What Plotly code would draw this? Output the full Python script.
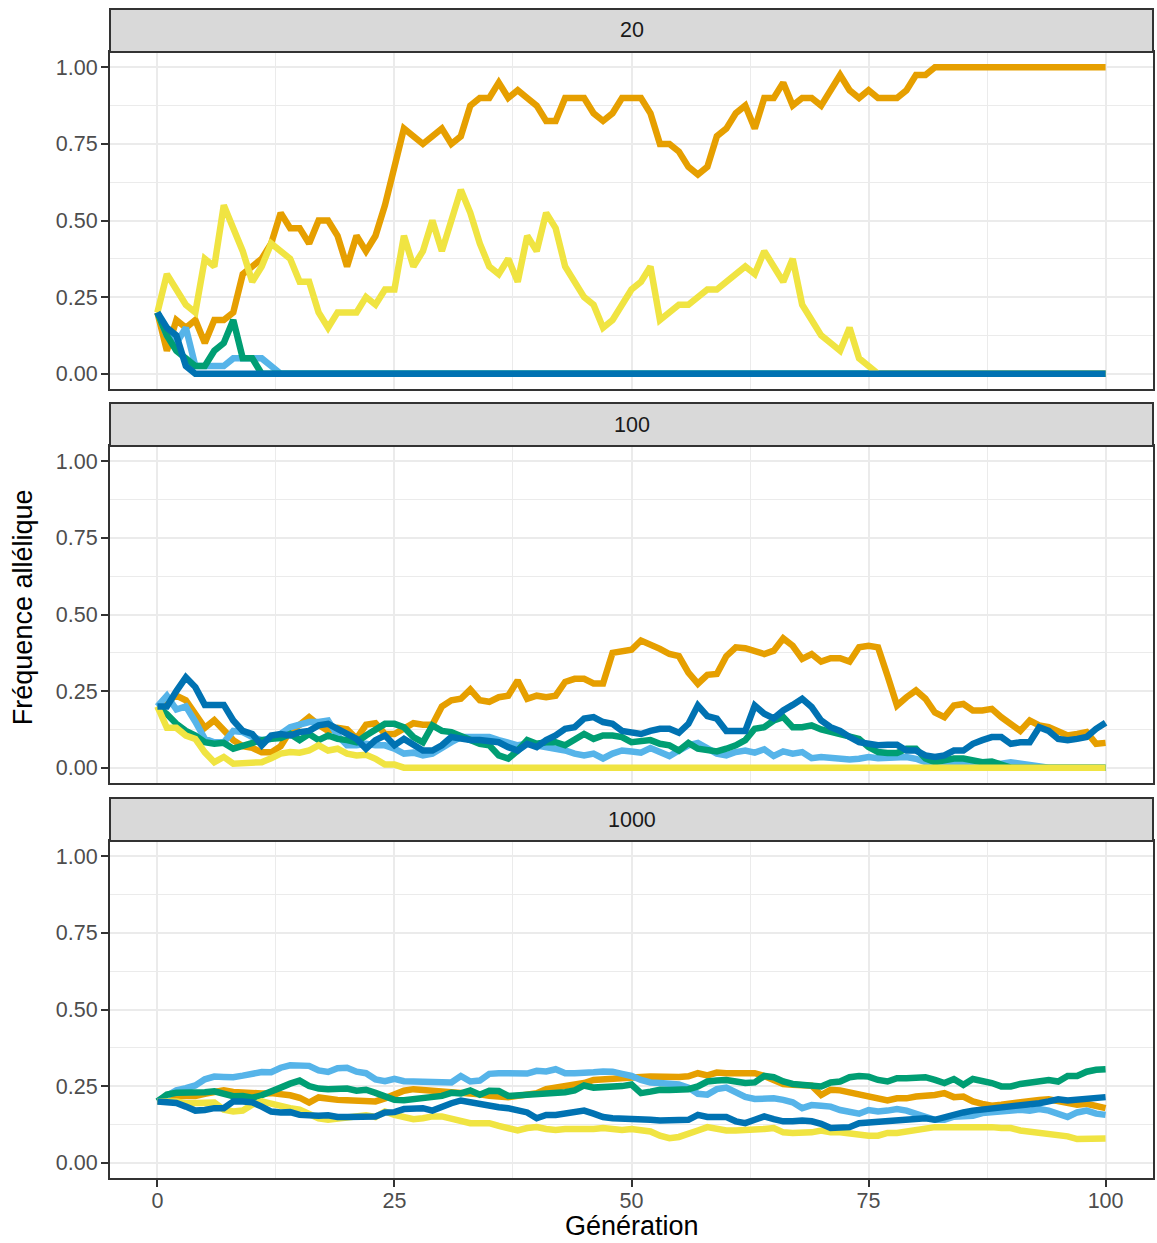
import plotly.graph_objects as go

# ---------------- data ----------------
generation = list(range(101))
facet_labels = ["20", "100", "1000"]
x_ticks = [0, 25, 50, 75, 100]
y_ticks = [0, 0.25, 0.5, 0.75, 1.0]
y_ticktext = ["0.00", "0.25", "0.50", "0.75", "1.00"]

# N = 20
orange_20 = [0.2, 0.075, 0.175, 0.15, 0.175, 0.1, 0.175, 0.175, 0.2, 0.325,
             0.35, 0.375, 0.425, 0.525, 0.475, 0.475, 0.425, 0.5, 0.5, 0.45,
             0.35, 0.45, 0.4, 0.45, 0.55, 0.675, 0.8, 0.775, 0.75, 0.775,
             0.8, 0.75, 0.775, 0.875, 0.9, 0.9, 0.95, 0.9, 0.925, 0.9,
             0.875, 0.825, 0.825, 0.9, 0.9, 0.9, 0.85, 0.825, 0.85, 0.9,
             0.9, 0.9, 0.85, 0.75, 0.75, 0.725, 0.675, 0.65, 0.675, 0.775,
             0.8, 0.85, 0.875, 0.8, 0.9, 0.9, 0.95, 0.875, 0.9, 0.9,
             0.875, 0.925, 0.975, 0.925, 0.9, 0.925, 0.9, 0.9, 0.9, 0.925,
             0.975, 0.975, 1, 1, 1, 1, 1, 1, 1, 1,
             1, 1, 1, 1, 1, 1, 1, 1, 1, 1,
             1]
skyblue_20 = [0.2, 0.125, 0.1, 0.15, 0.025, 0.025, 0.025, 0.025, 0.05, 0.05,
              0.05, 0.05, 0.025, 0, 0, 0, 0, 0, 0, 0,
              0, 0, 0, 0, 0, 0, 0, 0, 0, 0,
              0, 0, 0, 0, 0, 0, 0, 0, 0, 0,
              0, 0, 0, 0, 0, 0, 0, 0, 0, 0,
              0, 0, 0, 0, 0, 0, 0, 0, 0, 0,
              0, 0, 0, 0, 0, 0, 0, 0, 0, 0,
              0, 0, 0, 0, 0, 0, 0, 0, 0, 0,
              0, 0, 0, 0, 0, 0, 0, 0, 0, 0,
              0, 0, 0, 0, 0, 0, 0, 0, 0, 0,
              0]
green_20 = [0.2, 0.125, 0.075, 0.05, 0.025, 0.025, 0.075, 0.1, 0.175, 0.05,
            0.05, 0, 0, 0, 0, 0, 0, 0, 0, 0,
            0, 0, 0, 0, 0, 0, 0, 0, 0, 0,
            0, 0, 0, 0, 0, 0, 0, 0, 0, 0,
            0, 0, 0, 0, 0, 0, 0, 0, 0, 0,
            0, 0, 0, 0, 0, 0, 0, 0, 0, 0,
            0, 0, 0, 0, 0, 0, 0, 0, 0, 0,
            0, 0, 0, 0, 0, 0, 0, 0, 0, 0,
            0, 0, 0, 0, 0, 0, 0, 0, 0, 0,
            0, 0, 0, 0, 0, 0, 0, 0, 0, 0,
            0]
yellow_20 = [0.2, 0.325, 0.275, 0.225, 0.2, 0.375, 0.35, 0.55, 0.475, 0.4,
             0.3, 0.35, 0.425, 0.4, 0.375, 0.3, 0.3, 0.2, 0.15, 0.2,
             0.2, 0.2, 0.25, 0.225, 0.275, 0.275, 0.45, 0.35, 0.4, 0.5,
             0.4, 0.5, 0.6, 0.525, 0.425, 0.35, 0.325, 0.375, 0.3, 0.45,
             0.4, 0.525, 0.475, 0.35, 0.3, 0.25, 0.225, 0.15, 0.175, 0.225,
             0.275, 0.3, 0.35, 0.175, 0.2, 0.225, 0.225, 0.25, 0.275, 0.275,
             0.3, 0.325, 0.35, 0.325, 0.4, 0.35, 0.3, 0.375, 0.225, 0.175,
             0.125, 0.1, 0.075, 0.15, 0.05, 0.025, 0, 0, 0, 0,
             0, 0, 0, 0, 0, 0, 0, 0, 0, 0,
             0, 0, 0, 0, 0, 0, 0, 0, 0, 0,
             0]
blue_20 = [0.2, 0.15, 0.125, 0.025, 0, 0, 0, 0, 0, 0,
           0, 0, 0, 0, 0, 0, 0, 0, 0, 0,
           0, 0, 0, 0, 0, 0, 0, 0, 0, 0,
           0, 0, 0, 0, 0, 0, 0, 0, 0, 0,
           0, 0, 0, 0, 0, 0, 0, 0, 0, 0,
           0, 0, 0, 0, 0, 0, 0, 0, 0, 0,
           0, 0, 0, 0, 0, 0, 0, 0, 0, 0,
           0, 0, 0, 0, 0, 0, 0, 0, 0, 0,
           0, 0, 0, 0, 0, 0, 0, 0, 0, 0,
           0, 0, 0, 0, 0, 0, 0, 0, 0, 0,
           0]

# N = 100
orange_100 = [0.2, 0.22, 0.235, 0.22, 0.175, 0.13, 0.155, 0.12, 0.09, 0.07,
              0.065, 0.05, 0.05, 0.07, 0.12, 0.14, 0.165, 0.14, 0.12, 0.13,
              0.125, 0.095, 0.14, 0.145, 0.11, 0.11, 0.13, 0.145, 0.14, 0.14,
              0.2, 0.22, 0.225, 0.255, 0.22, 0.215, 0.23, 0.235, 0.285, 0.225,
              0.235, 0.23, 0.235, 0.28, 0.29, 0.29, 0.275, 0.275, 0.375, 0.38,
              0.385, 0.415, 0.404, 0.388, 0.371, 0.364, 0.31, 0.274, 0.303, 0.306,
              0.364, 0.393, 0.39, 0.382, 0.371, 0.382, 0.422, 0.398, 0.355, 0.371,
              0.346, 0.357, 0.357, 0.346, 0.393, 0.398, 0.393, 0.3, 0.203, 0.23,
              0.252, 0.225, 0.18, 0.165, 0.203, 0.208, 0.187, 0.187, 0.192, 0.165,
              0.143, 0.12, 0.154, 0.138, 0.132, 0.12, 0.105, 0.11, 0.116, 0.078,
              0.081]
skyblue_100 = [0.2, 0.235, 0.19, 0.2, 0.15, 0.094, 0.083, 0.083, 0.12, 0.116,
               0.1, 0.09, 0.094, 0.11, 0.132, 0.138, 0.149, 0.149, 0.154, 0.105,
               0.073, 0.073, 0.078, 0.073, 0.073, 0.062, 0.046, 0.049, 0.04, 0.046,
               0.067, 0.083, 0.1, 0.1, 0.105, 0.1, 0.09, 0.083, 0.073, 0.078,
               0.073, 0.067, 0.062, 0.056, 0.046, 0.04, 0.046, 0.03, 0.046, 0.056,
               0.053, 0.049, 0.064, 0.049, 0.038, 0.056, 0.073, 0.081, 0.064, 0.046,
               0.04, 0.051, 0.056, 0.049, 0.06, 0.038, 0.053, 0.046, 0.051, 0.031,
               0.035, 0.031, 0.026, 0.027, 0.029, 0.035, 0.031, 0.031, 0.035, 0.035,
               0.029, 0.018, 0.013, 0.013, 0.013, 0.01, 0.008, 0.008, 0.01, 0.013,
               0.018, 0.013, 0.008, 0, 0, 0, 0, 0, 0, 0,
               0]
green_100 = [0.2, 0.175, 0.143, 0.12, 0.105, 0.083, 0.078, 0.081, 0.062, 0.073,
             0.083, 0.09, 0.094, 0.097, 0.11, 0.09, 0.11, 0.09, 0.105, 0.094,
             0.09, 0.083, 0.105, 0.127, 0.143, 0.143, 0.132, 0.1, 0.083, 0.138,
             0.12, 0.116, 0.105, 0.09, 0.078, 0.073, 0.04, 0.03, 0.056, 0.09,
             0.078, 0.083, 0.083, 0.073, 0.094, 0.11, 0.094, 0.105, 0.105, 0.1,
             0.083, 0.085, 0.09, 0.078, 0.073, 0.056, 0.081, 0.062, 0.056, 0.053,
             0.062, 0.073, 0.09, 0.127, 0.132, 0.154, 0.165, 0.132, 0.132, 0.138,
             0.125, 0.118, 0.11, 0.1, 0.094, 0.067, 0.051, 0.048, 0.048, 0.062,
             0.062, 0.03, 0.018, 0.024, 0.03, 0.03, 0.024, 0.018, 0.02, 0.008,
             0, 0, 0, 0, 0, 0, 0, 0, 0, 0,
             0]
yellow_100 = [0.2, 0.13, 0.13, 0.105, 0.094, 0.05, 0.018, 0.035, 0.013, 0.013,
              0.013, 0.018, 0.031, 0.046, 0.051, 0.049, 0.056, 0.073, 0.056, 0.062,
              0.046, 0.04, 0.042, 0.029, 0.01, 0.01, 0, 0, 0, 0,
              0, 0, 0, 0, 0, 0, 0, 0, 0, 0,
              0, 0, 0, 0, 0, 0, 0, 0, 0, 0,
              0, 0, 0, 0, 0, 0, 0, 0, 0, 0,
              0, 0, 0, 0, 0, 0, 0, 0, 0, 0,
              0, 0, 0, 0, 0, 0, 0, 0, 0, 0,
              0, 0, 0, 0, 0, 0, 0, 0, 0, 0,
              0, 0, 0, 0, 0, 0, 0, 0, 0, 0,
              0]
blue_100 = [0.2, 0.2, 0.25, 0.295, 0.263, 0.205, 0.205, 0.205, 0.154, 0.12,
            0.11, 0.073, 0.105, 0.11, 0.105, 0.116, 0.12, 0.138, 0.143, 0.127,
            0.11, 0.094, 0.062, 0.09, 0.105, 0.073, 0.094, 0.073, 0.056, 0.056,
            0.073, 0.1, 0.094, 0.09, 0.09, 0.086, 0.083, 0.067, 0.056, 0.078,
            0.067, 0.09, 0.105, 0.127, 0.132, 0.16, 0.165, 0.149, 0.143, 0.12,
            0.115, 0.11, 0.12, 0.127, 0.127, 0.114, 0.143, 0.203, 0.168, 0.16,
            0.12, 0.12, 0.12, 0.203, 0.176, 0.161, 0.187, 0.205, 0.225, 0.198,
            0.154, 0.132, 0.12, 0.1, 0.083, 0.078, 0.073, 0.075, 0.075, 0.056,
            0.056, 0.04, 0.035, 0.04, 0.056, 0.056, 0.078, 0.09, 0.1, 0.1,
            0.078, 0.083, 0.083, 0.132, 0.12, 0.094, 0.09, 0.094, 0.1, 0.127,
            0.147]

# N = 1000
orange_1000 = [0.2, 0.21, 0.218, 0.218, 0.218, 0.225, 0.232, 0.236, 0.231, 0.228,
               0.226, 0.226, 0.227, 0.225, 0.22, 0.212, 0.196, 0.213, 0.208, 0.205,
               0.204, 0.203, 0.201, 0.2, 0.21, 0.225, 0.235, 0.24, 0.238, 0.235,
               0.232, 0.23, 0.23, 0.227, 0.223, 0.218, 0.214, 0.214, 0.218, 0.222,
               0.227, 0.24, 0.245, 0.25, 0.254, 0.26, 0.27, 0.273, 0.272, 0.275,
               0.279, 0.28, 0.281, 0.279, 0.278, 0.28, 0.282, 0.292, 0.285, 0.294,
               0.292, 0.292, 0.297, 0.292, 0.283, 0.268, 0.257, 0.254, 0.254, 0.251,
               0.221, 0.238, 0.236, 0.229, 0.221, 0.214, 0.207, 0.203, 0.21, 0.21,
               0.216, 0.216, 0.221, 0.227, 0.214, 0.216, 0.2, 0.192, 0.186, 0.189,
               0.194, 0.2, 0.203, 0.205, 0.207, 0.2, 0.194, 0.189, 0.192, 0.183,
               0.178]
skyblue_1000 = [0.2, 0.22, 0.236, 0.243, 0.252, 0.272, 0.281, 0.28, 0.279, 0.284,
                0.292, 0.296, 0.295, 0.31, 0.318, 0.316, 0.316, 0.301, 0.296, 0.308,
                0.31, 0.297, 0.292, 0.272, 0.266, 0.274, 0.266, 0.265, 0.265, 0.263,
                0.262, 0.262, 0.283, 0.265, 0.268, 0.29, 0.292, 0.291, 0.291, 0.291,
                0.3, 0.298, 0.305, 0.292, 0.292, 0.292, 0.295, 0.298, 0.297, 0.29,
                0.283, 0.27, 0.262, 0.26, 0.26, 0.255, 0.245, 0.225, 0.222, 0.24,
                0.245, 0.232, 0.215, 0.208, 0.21, 0.21, 0.205, 0.197, 0.178, 0.188,
                0.186, 0.183, 0.172, 0.164, 0.16, 0.172, 0.167, 0.17, 0.175, 0.17,
                0.162, 0.15, 0.14, 0.14, 0.15, 0.15, 0.153, 0.162, 0.164, 0.167,
                0.172, 0.173, 0.17, 0.175, 0.17, 0.16, 0.149, 0.164, 0.17, 0.16,
                0.156]
green_1000 = [0.2, 0.222, 0.228, 0.228, 0.226, 0.23, 0.233, 0.225, 0.217, 0.218,
              0.212, 0.22, 0.235, 0.245, 0.258, 0.268, 0.25, 0.242, 0.24, 0.24,
              0.242, 0.235, 0.238, 0.228, 0.215, 0.205, 0.204, 0.208, 0.21, 0.212,
              0.218, 0.228, 0.226, 0.236, 0.222, 0.235, 0.234, 0.218, 0.22, 0.222,
              0.224, 0.222, 0.225, 0.23, 0.236, 0.252, 0.245, 0.246, 0.248, 0.25,
              0.255, 0.227, 0.232, 0.238, 0.237, 0.238, 0.24, 0.249, 0.265, 0.268,
              0.27, 0.265, 0.26, 0.262, 0.283, 0.279, 0.265, 0.257, 0.254, 0.251,
              0.249, 0.262, 0.265, 0.279, 0.283, 0.281, 0.27, 0.265, 0.276, 0.276,
              0.276, 0.279, 0.27, 0.26, 0.273, 0.254, 0.273, 0.268, 0.26, 0.249,
              0.249, 0.257, 0.26, 0.268, 0.27, 0.265, 0.283, 0.283, 0.297, 0.303,
              0.305]
yellow_1000 = [0.2, 0.2, 0.2, 0.194, 0.194, 0.198, 0.196, 0.173, 0.167, 0.17,
               0.189, 0.2, 0.192, 0.183, 0.178, 0.173, 0.156, 0.145, 0.14, 0.145,
               0.149, 0.153, 0.155, 0.149, 0.167, 0.156, 0.149, 0.142, 0.145, 0.151,
               0.151, 0.142, 0.135, 0.129, 0.129, 0.129, 0.12, 0.11, 0.105, 0.113,
               0.116, 0.11, 0.107, 0.11, 0.11, 0.105, 0.11, 0.113, 0.11, 0.107,
               0.11, 0.105, 0.102, 0.088, 0.08, 0.084, 0.097, 0.105, 0.116, 0.11,
               0.105, 0.105, 0.105, 0.107, 0.11, 0.113, 0.099, 0.097, 0.097, 0.099,
               0.105, 0.099, 0.099, 0.094, 0.088, 0.088, 0.088, 0.097, 0.097, 0.102,
               0.11, 0.116, 0.116, 0.116, 0.116, 0.12, 0.116, 0.12, 0.116, 0.113,
               0.113, 0.105, 0.102, 0.099, 0.097, 0.094, 0.086, 0.077, 0.077, 0.079,
               0.079]
blue_1000 = [0.2, 0.198, 0.195, 0.183, 0.17, 0.172, 0.178, 0.178, 0.2, 0.2,
             0.197, 0.183, 0.167, 0.164, 0.165, 0.156, 0.153, 0.153, 0.155, 0.149,
             0.149, 0.149, 0.149, 0.151, 0.164, 0.165, 0.175, 0.176, 0.178, 0.17,
             0.183, 0.194, 0.203, 0.197, 0.189, 0.183, 0.181, 0.178, 0.173, 0.164,
             0.145, 0.156, 0.156, 0.162, 0.167, 0.17, 0.16, 0.149, 0.145, 0.145,
             0.145, 0.145, 0.14, 0.138, 0.138, 0.138, 0.14, 0.156, 0.149, 0.149,
             0.149, 0.135, 0.129, 0.14, 0.151, 0.142, 0.135, 0.135, 0.138, 0.135,
             0.127, 0.113, 0.116, 0.116, 0.129, 0.131, 0.131, 0.135, 0.14, 0.138,
             0.142, 0.145, 0.14, 0.149, 0.156, 0.164, 0.17, 0.173, 0.178, 0.183,
             0.186, 0.189, 0.189, 0.194, 0.2, 0.207, 0.203, 0.205, 0.21, 0.214,
             0.214]

series_colors = ["#E69F00", "#56B4E9", "#009E73", "#F0E442", "#0072B2"]
panels = [
    [orange_20, skyblue_20, green_20, yellow_20, blue_20],
    [orange_100, skyblue_100, green_100, yellow_100, blue_100],
    [orange_1000, skyblue_1000, green_1000, yellow_1000, blue_1000],
]

# ---------------- layout geometry (pixels) ----------------
W, H = 1157, 1243
ML, MR, MT, MB = 110, 2, 9, 65
plot_h = H - MT - MB
panel_px = [(52, 389), (446, 783), (841, 1178)]   # (top, bottom)
strip_px = [(9, 52), (403, 446), (798, 841)]


def py(p):
    return (H - MB - p) / plot_h


FONT = "Liberation Sans, Arial, Helvetica, sans-serif"
BORDER = "#333333"
GRID = "#EBEBEB"

fig = go.Figure()
for i, series in enumerate(panels):
    xa = "x" if i == 0 else f"x{i + 1}"
    ya = "y" if i == 0 else f"y{i + 1}"
    for vals, col in zip(series, series_colors):
        fig.add_trace(go.Scatter(x=generation, y=vals, mode="lines",
                                 line=dict(color=col, width=6.5),
                                 xaxis=xa, yaxis=ya, showlegend=False,
                                 hoverinfo="skip"))

layout = dict(
    width=W, height=H,
    margin=dict(l=ML, r=MR, t=MT, b=MB),
    paper_bgcolor="white", plot_bgcolor="white",
    font=dict(family=FONT, color="#4D4D4D", size=21.5),
    showlegend=False, hovermode=False,
)

shapes = []
annotations = []
for i in range(3):
    top, bot = panel_px[i]
    sfx = "" if i == 0 else str(i + 1)
    last = (i == 2)
    layout["xaxis" + sfx] = dict(
        domain=[0, 1], range=[-5, 105], anchor="y" + sfx,
        tickvals=x_ticks, ticktext=[str(v) for v in x_ticks],
        showticklabels=last, ticks="outside" if last else "",
        ticklen=7, tickwidth=1.5, tickcolor=BORDER,
        tickfont=dict(size=21.5, color="#4D4D4D", family=FONT),
        showgrid=True, gridcolor=GRID, gridwidth=2,
        minor=dict(tickvals=[12.5, 37.5, 62.5, 87.5], showgrid=True,
                   gridcolor=GRID, gridwidth=1, ticks=""),
        showline=True, mirror=True, linecolor=BORDER, linewidth=2,
        zeroline=False, fixedrange=True,
    )
    if last:
        layout["xaxis" + sfx]["ticklabelstandoff"] = -5
    layout["yaxis" + sfx] = dict(
        domain=[py(bot), py(top)], range=[-0.05, 1.05], anchor="x" + sfx,
        tickvals=y_ticks, ticktext=y_ticktext,
        ticks="outside", ticklen=7, tickwidth=1.5, tickcolor=BORDER,
        tickfont=dict(size=21.5, color="#4D4D4D", family=FONT),
        ticklabelstandoff=-1,
        showgrid=True, gridcolor=GRID, gridwidth=2,
        minor=dict(tickvals=[0.125, 0.375, 0.625, 0.875], showgrid=True,
                   gridcolor=GRID, gridwidth=1, ticks=""),
        showline=True, mirror=True, linecolor=BORDER, linewidth=2,
        zeroline=False, fixedrange=True,
    )
    s_top, s_bot = strip_px[i]
    shapes.append(dict(type="rect", xref="paper", yref="paper",
                       x0=0, x1=1, y0=py(s_bot), y1=py(s_top),
                       fillcolor="#D9D9D9", line=dict(color=BORDER, width=2),
                       layer="above"))
    annotations.append(dict(text=facet_labels[i], xref="paper", yref="paper",
                            x=0.5, y=(py(s_bot) + py(s_top)) / 2,
                            xanchor="center", yanchor="middle", showarrow=False,
                            font=dict(size=21.5, color="#1A1A1A", family=FONT)))

annotations.append(dict(text="Génération", xref="paper", yref="paper",
                        x=(633 - ML) / (W - ML - MR), y=py(1226),
                        xanchor="center", yanchor="middle", showarrow=False,
                        font=dict(size=27, color="black", family=FONT)))
annotations.append(dict(text="Fréquence allélique", xref="paper", yref="paper",
                        x=(23 - ML) / (W - ML - MR), y=py(607), textangle=-90,
                        xanchor="center", yanchor="middle", showarrow=False,
                        font=dict(size=27, color="black", family=FONT)))

layout["shapes"] = shapes
layout["annotations"] = annotations
fig.update_layout(**layout)

fig.write_html("out.html", config={"displayModeBar": False},
               post_script="document.body.style.margin='0';"
                           "document.body.style.overflow='hidden';")
